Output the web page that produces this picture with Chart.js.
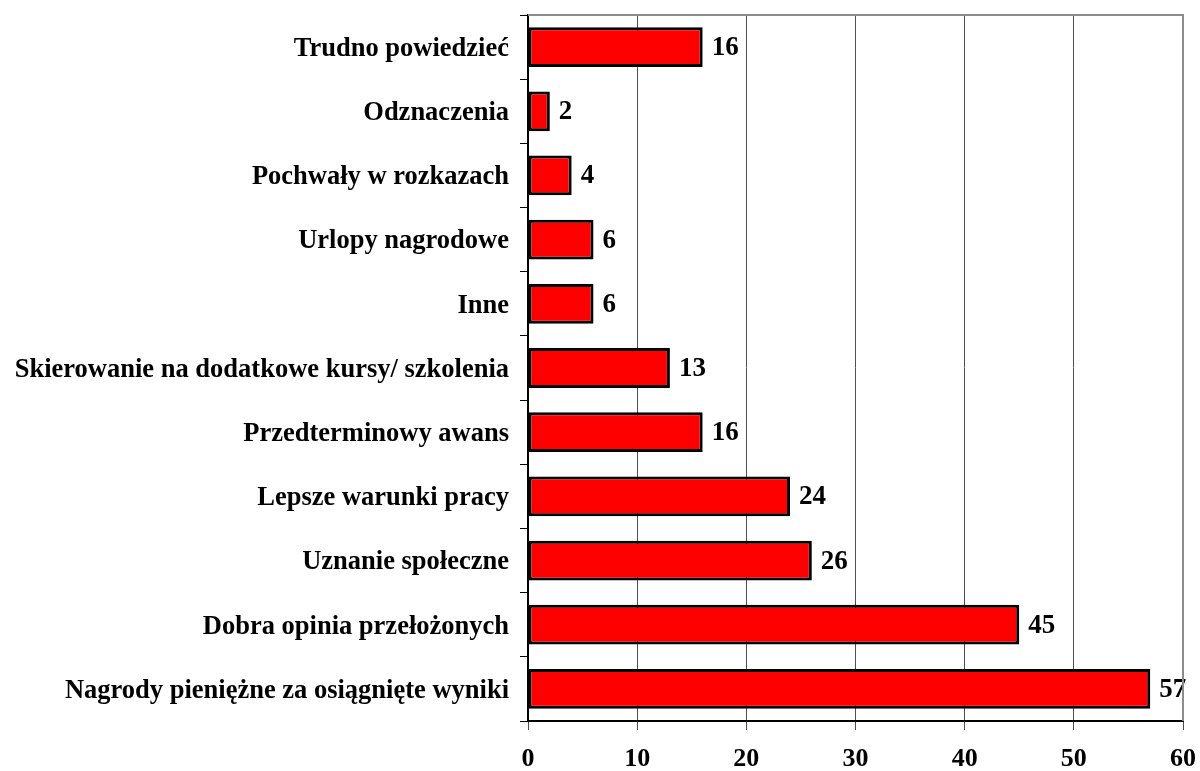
<!DOCTYPE html>
<html>
<head>
<meta charset="utf-8">
<script src="https://cdn.jsdelivr.net/npm/chart.js@4/dist/chart.umd.min.js"></script>
<style>
  html, body { margin: 0; padding: 0; background: #fff; }
  #wrap { width: 1200px; height: 771px; }
</style>
</head>
<body>
<div id="wrap"><canvas id="chart" width="1200" height="771"></canvas></div>
<script>
/* ===== Rewards ranking (horizontal bars) ===== */

const CATEGORIES = [
  'Trudno powiedzieć',
  'Odznaczenia',
  'Pochwały w rozkazach',
  'Urlopy nagrodowe',
  'Inne',
  'Skierowanie na dodatkowe kursy/ szkolenia',
  'Przedterminowy awans',
  'Lepsze warunki pracy',
  'Uznanie społeczne',
  'Dobra opinia przełożonych',
  'Nagrody pieniężne za osiągnięte wyniki',
];

const VALUES = [16, 2, 4, 6, 6, 13, 16, 24, 26, 45, 57];

const X_MIN = 0;
const X_MAX = 60;
const X_STEP = 10;

const FONT = '"Liberation Serif", "Times New Roman", serif';

// value labels to the right of each bar
const valueLabels = {
  id: 'valueLabels',
  afterDatasetsDraw(chart) {
    const { ctx } = chart;
    const meta = chart.getDatasetMeta(0);
    ctx.save();
    ctx.font = 'bold 27px ' + FONT;
    ctx.fillStyle = '#000';
    ctx.textBaseline = 'middle';
    meta.data.forEach((bar, i) => {
      ctx.fillText(String(VALUES[i]), bar.x + 9, bar.y + 1);
    });
    ctx.restore();
  },
};

// grey top and right frame of the plot area
const plotFrame = {
  id: 'plotFrame',
  afterDraw(chart) {
    const { ctx, chartArea: a } = chart;
    ctx.save();
    ctx.strokeStyle = '#8c8c8c';
    ctx.lineWidth = 2;
    ctx.beginPath();
    ctx.moveTo(a.left, a.top);
    ctx.lineTo(a.right, a.top);
    ctx.lineTo(a.right, a.bottom);
    ctx.stroke();
    ctx.restore();
  },
};

new Chart(document.getElementById('chart'), {
  type: 'bar',
  data: {
    labels: CATEGORIES,
    datasets: [{
      data: VALUES,
      backgroundColor: '#ff0000',
      borderColor: '#000',
      borderWidth: 3,
      borderSkipped: false,
      barPercentage: 0.62,
      categoryPercentage: 1,
    }],
  },
  options: {
    indexAxis: 'y',
    responsive: false,
    animation: false,
    layout: { padding: { top: 15, right: 17, bottom: 0, left: 0 } },
    scales: {
      x: {
        min: X_MIN,
        max: X_MAX,
        ticks: {
          stepSize: X_STEP,
          color: '#000',
          font: { family: FONT, size: 26, weight: 'bold' },
          padding: 14,
        },
        grid: { color: '#505050', lineWidth: 1, tickLength: 9 },
        border: { color: '#000', width: 2 },
        afterFit(scale) { scale.height = 50; scale.paddingLeft = 0; scale.paddingRight = 0; },
      },
      y: {
        ticks: {
          color: '#000',
          font: { family: FONT, size: 26.5, weight: 'bold' },
          padding: 11,
          labelOffset: 2,
        },
        grid: { drawOnChartArea: false, color: '#000', tickLength: 8, offset: true },
        border: { color: '#000', width: 2 },
        afterFit(scale) { scale.width = 528; scale.paddingTop = 0; scale.paddingBottom = 0; },
      },
    },
    plugins: {
      legend: { display: false },
      tooltip: { enabled: false },
    },
  },
  plugins: [valueLabels, plotFrame],
});
</script>
</body>
</html>
